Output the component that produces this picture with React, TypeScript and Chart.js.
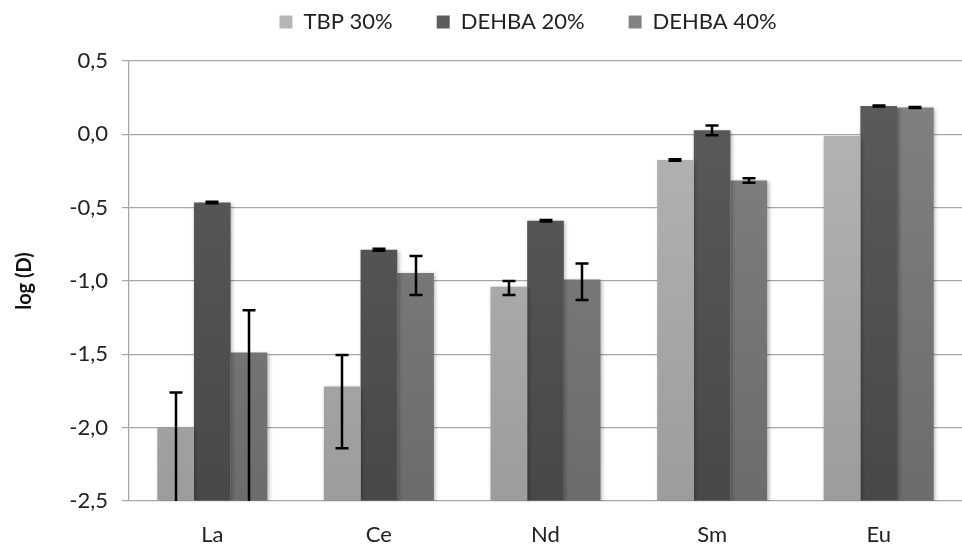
import React, { useEffect, useRef } from "react";
import { Chart, registerables } from "chart.js";

Chart.register(...registerables);

const categories = ["La", "Ce", "Nd", "Sm", "Eu"];
const seriesNames = ["TBP 30%", "DEHBA 20%", "DEHBA 40%"];

const tbp30 = [-2.0, -1.72, -1.04, -0.175, -0.012];
const dehba20 = [-0.465, -0.787, -0.589, 0.027, 0.193];
const dehba40 = [-1.487, -0.945, -0.99, -0.315, 0.183];

// error bar bounds (upper, lower); null = no error bar
const tbp30Upper = [-1.76, -1.505, -1.0, -0.17, null];
const tbp30Lower = [-2.6, -2.14, -1.095, -0.18, null];
const dehba20Upper = [-0.46, -0.78, -0.584, 0.06, 0.197];
const dehba20Lower = [-0.47, -0.794, -0.594, -0.007, 0.189];
const dehba40Upper = [-1.2, -0.83, -0.88, -0.3, 0.187];
const dehba40Lower = [-2.6, -1.095, -1.13, -0.33, 0.179];

const yMin = -2.5;
const yMax = 0.5;
const yStep = 0.5;

const FONT = "Lato, 'Open Sans', sans-serif";
const LEGEND_PAD = 44;

function gradient(ctx: any, area: any, top: string, bottom: string) {
  if (!area) return top;
  const g = ctx.createLinearGradient(0, area.top, 0, area.bottom);
  g.addColorStop(0, top);
  g.addColorStop(1, bottom);
  return g;
}

const errorBarPlugin = {
  id: "errorBars",
  afterDatasetsDraw(chart: any) {
    const { ctx, chartArea, scales } = chart;
    const bounds = [
      [tbp30Upper, tbp30Lower],
      [dehba20Upper, dehba20Lower],
      [dehba40Upper, dehba40Lower],
    ];
    ctx.save();
    ctx.beginPath();
    ctx.rect(chartArea.left, chartArea.top, chartArea.right - chartArea.left, chartArea.bottom - chartArea.top);
    ctx.clip();
    ctx.strokeStyle = "#000";
    ctx.lineWidth = 2.5;
    bounds.forEach(([up, lo], di) => {
      const meta = chart.getDatasetMeta(di);
      meta.data.forEach((bar: any, i: number) => {
        const u = up[i];
        const l = lo[i];
        if (u == null || l == null) return;
        const x = Math.round(bar.x);
        const yu = scales.y.getPixelForValue(u);
        const yl = scales.y.getPixelForValue(l);
        const cap = 6.5;
        ctx.beginPath();
        ctx.moveTo(x, yu);
        ctx.lineTo(x, yl);
        ctx.moveTo(x - cap, yu);
        ctx.lineTo(x + cap, yu);
        ctx.moveTo(x - cap, yl);
        ctx.lineTo(x + cap, yl);
        ctx.stroke();
      });
    });
    ctx.restore();
  },
};

const shadowPlugin = {
  id: "barShadow",
  beforeDatasetsDraw(chart: any) {
    const ctx = chart.ctx;
    ctx.save();
    ctx.shadowColor = "rgba(0,0,0,0.3)";
    ctx.shadowBlur = 4;
    ctx.shadowOffsetX = 1.5;
    ctx.shadowOffsetY = 1.5;
  },
  afterDatasetsDraw(chart: any) {
    chart.ctx.restore();
  },
};

const legendSpacer = {
  id: "legendSpacer",
  beforeInit(chart: any) {
    const legend = chart.legend;
    if (!legend) return;
    const origFit = legend.fit;
    legend.fit = function () {
      origFit.call(this);
      this.height += 18;
    };
    const origDraw = legend.draw;
    legend.draw = function (...args: any[]) {
      const ctx = chart.ctx;
      ctx.save();
      ctx.translate(47, 0);
      origDraw.apply(this, args);
      ctx.restore();
    };
  },
};

export default function App() {
  const ref = useRef<HTMLCanvasElement | null>(null);

  useEffect(() => {
    document.body.style.margin = "0";
    const canvas = ref.current;
    if (!canvas) return;
    const colors = [
      ["#b6b6b6", "#9c9c9c"],
      ["#5c5c5c", "#484848"],
      ["#828282", "#6c6c6c"],
    ];
    const values = [tbp30, dehba20, dehba40];
    const chart = new Chart(canvas, {
      type: "bar",
      data: {
        labels: categories,
        datasets: values.map((v, i) => ({
          label: seriesNames[i],
          data: v,
          base: yMin,
          backgroundColor: (c: any) =>
            gradient(c.chart.ctx, c.chart.chartArea, colors[i][0], colors[i][1]),
          borderWidth: 0,
          categoryPercentage: 0.66,
          barPercentage: 1.0,
        })),
      },
      options: {
        animation: false,
        responsive: false,
        maintainAspectRatio: false,
        layout: { padding: { left: 0, right: 0, top: 11 - LEGEND_PAD, bottom: 0 } },
        plugins: {
          legend: {
            position: "top",
            align: "center",
            labels: {
              boxWidth: 13,
              boxHeight: 13,
              padding: LEGEND_PAD,
              color: "#222",
              font: { family: FONT, size: 22 },
              generateLabels: () =>
                seriesNames.map((n, i) => ({
                  text: n,
                  fillStyle: colors[i][0],
                  strokeStyle: colors[i][0],
                  lineWidth: 0,
                  datasetIndex: i,
                  hidden: false,
                  fontColor: "#222",
                })),
            },
          },
          tooltip: { enabled: false },
        },
        scales: {
          x: {
            grid: { display: false },
            border: { display: false },
            ticks: {
              color: "#222",
              font: { family: FONT, size: 22 },
              padding: 13,
            },
            afterFit: (s: any) => {
              s.height = 45;
            },
          },
          y: {
            min: yMin,
            max: yMax,
            ticks: {
              stepSize: yStep,
              color: "#222",
              font: { family: FONT, size: 22 },
              padding: 14,
              callback: (v: any) => Number(v).toFixed(1).replace(".", ","),
            },
            grid: {
              color: "#a6a6a6",
              lineWidth: 1.2,
              tickLength: 7,
            },
            border: { display: true, color: "#a6a6a6", width: 1.2 },
            title: {
              display: true,
              text: "log (D)",
              color: "#111",
              font: { family: FONT, size: 20, weight: "bold" },
              padding: { top: 13, bottom: 6 },
            },
            afterFit: (s: any) => {
              s.width = 129;
            },
          },
        },
      },
      plugins: [legendSpacer, shadowPlugin, errorBarPlugin],
    });
    return () => chart.destroy();
  }, []);

  return (
    <div style={{ width: 962, height: 546, background: "#fff" }}>
      <canvas ref={ref} width={962} height={546} style={{ display: "block" }} />
    </div>
  );
}
